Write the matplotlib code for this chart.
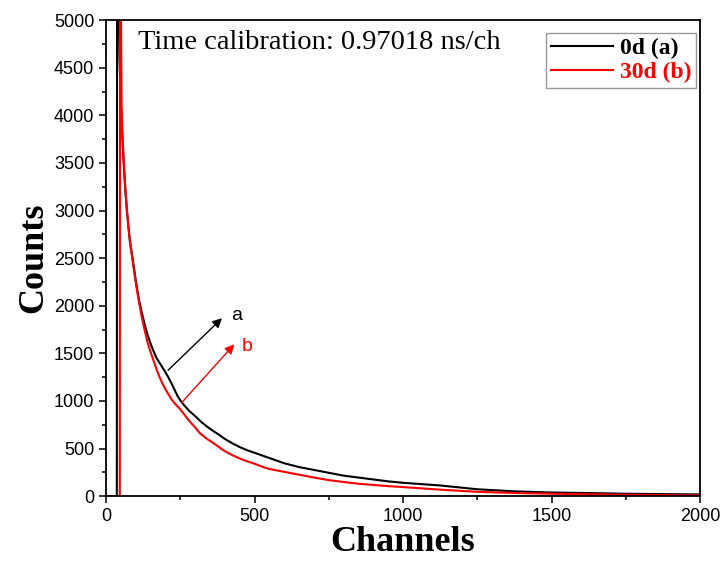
import numpy as np
import matplotlib.pyplot as plt
from matplotlib.ticker import MultipleLocator

# Channel / count values (estimated by eye)
channels_a = [0, 36, 37, 45, 50, 55, 60, 65, 70, 75, 80, 90, 100, 110, 120, 130, 140,
              150, 160, 170, 180, 190, 200, 210, 220, 230, 240, 250, 260, 270, 280,
              300, 320, 340, 360, 380, 400, 425, 450, 475, 500, 550, 600, 650, 700,
              750, 800, 850, 900, 950, 1000, 1125, 1250, 1375, 1500, 1625, 1750,
              1875, 2000]
counts_a = [0, 0, 6500, 4600, 4100, 3750, 3450, 3200, 3000, 2830, 2680, 2480, 2260,
            2070, 1930, 1800, 1690, 1600, 1520, 1450, 1400, 1350, 1300, 1245, 1185,
            1120, 1055, 1005, 965, 930, 895, 840, 780, 730, 685, 645, 600, 555, 515,
            482, 455, 400, 345, 305, 275, 245, 215, 195, 175, 155, 140, 112, 72, 50,
            38, 32, 25, 21, 18]

channels_b = [0, 46, 47, 52, 55, 60, 65, 70, 75, 80, 90, 100, 110, 120, 130, 140, 150,
              160, 170, 180, 190, 200, 210, 222, 235, 246, 260, 280, 300, 316, 340,
              360, 394, 425, 450, 475, 500, 529, 550, 600, 650, 700, 750, 800, 850,
              900, 950, 1000, 1125, 1250, 1375, 1500, 1625, 1750, 1875, 2000]
counts_b = [0, 0, 6500, 4100, 3800, 3480, 3220, 3000, 2830, 2680, 2450, 2240, 2050,
            1880, 1740, 1610, 1510, 1420, 1330, 1250, 1180, 1120, 1070, 1008, 960,
            925, 870, 790, 720, 660, 600, 560, 483, 430, 395, 365, 340, 305, 285,
            255, 225, 195, 168, 148, 130, 117, 105, 95, 68, 45, 33, 25, 20, 15, 11, 8]

labels = ['0d (a)', '30d (b)']
colors = ['black', 'red']

fig = plt.figure(figsize=(7.22, 5.67), dpi=100)
ax = fig.add_axes([0.147, 0.125, 0.8225, 0.8395])

ax.plot(channels_a, counts_a, color=colors[0], lw=1.5, label=labels[0])
ax.plot(channels_b, counts_b, color=colors[1], lw=1.5, label=labels[1])

# arrows pointing to each curve
ax.annotate('', xy=(397, 1890), xytext=(202, 1302),
            arrowprops=dict(arrowstyle='-|>', color='black', lw=1, mutation_scale=14))
ax.text(420, 1900, 'a', color='black', fontsize=14, family='Liberation Sans', va='center')
ax.annotate('', xy=(438, 1617), xytext=(248, 960),
            arrowprops=dict(arrowstyle='-|>', color='red', lw=1, mutation_scale=14))
ax.text(458, 1570, 'b', color='red', fontsize=14, family='Liberation Sans', va='center')

ax.text(0.054, 0.954, 'Time calibration: 0.97018 ns/ch', transform=ax.transAxes,
        fontsize=20.5, family='Liberation Serif', va='center', ha='left')

ax.set_xlim(0, 2000)
ax.set_ylim(0, 5000)
ax.xaxis.set_major_locator(MultipleLocator(500))
ax.xaxis.set_minor_locator(MultipleLocator(250))
ax.yaxis.set_major_locator(MultipleLocator(500))
ax.yaxis.set_minor_locator(MultipleLocator(250))
ax.tick_params(which='both', direction='out', top=False, right=False, width=1.1)
ax.tick_params(which='major', length=5, labelsize=13)
ax.tick_params(which='minor', length=3)
for lab in ax.get_xticklabels() + ax.get_yticklabels():
    lab.set_family('Liberation Sans')
for sp in ax.spines.values():
    sp.set_linewidth(1.3)

ax.set_xlabel('Channels', fontsize=26, fontweight='bold', family='Liberation Serif', labelpad=1)
ax.set_ylabel('Counts', fontsize=26, fontweight='bold', family='Liberation Serif', labelpad=3)

leg = ax.legend(loc='upper right', bbox_to_anchor=(0.993, 0.973), borderaxespad=0,
                prop={'family': 'Liberation Serif', 'weight': 'bold', 'size': 17},
                fancybox=False, handlelength=2.6, handletextpad=0.3,
                borderpad=0.2, labelspacing=0.1)
leg.get_frame().set_edgecolor('gray')
leg.get_frame().set_linewidth(1)
for txt, c in zip(leg.get_texts(), colors):
    txt.set_color(c)

fig.savefig('out.png', dpi=100)
